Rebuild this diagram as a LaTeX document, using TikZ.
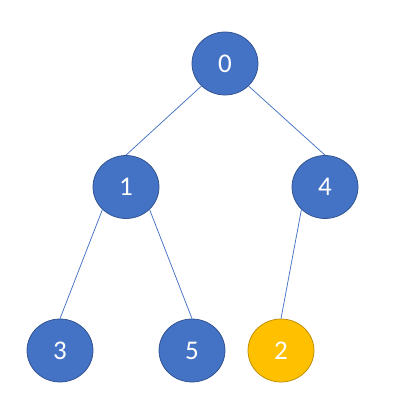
\documentclass[tikz,border=0pt]{standalone}
\usepackage{fontspec}
\setmainfont{Carlito}
\usepackage{tikz}
\usetikzlibrary{shapes.geometric}

\definecolor{nodeblue}{HTML}{4472C4}
\definecolor{nodeblueedge}{HTML}{2F528F}
\definecolor{nodegold}{HTML}{FFC000}
\definecolor{nodegoldedge}{HTML}{BC8C00}

\begin{document}
\begin{tikzpicture}[x=1pt, y=-1pt,
    vertex/.style={ellipse, minimum width=66pt, minimum height=63pt, inner sep=0pt,
        fill=nodeblue, draw=nodeblueedge, line width=0.75pt, text=white,
        font=\fontsize{27}{27}\selectfont},
    goldvertex/.style={vertex, fill=nodegold, draw=nodegoldedge},
    link/.style={draw=nodeblue, line width=0.75pt}]

\useasboundingbox (0,0) rectangle (402,416);

% Knoten des Baums
    \node[vertex] (n0) at (225,63.5) {0};
    \node[vertex] (n1) at (126,187) {1};
    \node[vertex] (n4) at (325,187) {4};
    \node[vertex] (n3) at (60,350.5) {3};
    \node[vertex] (n5) at (192,350.5) {5};
    \node[goldvertex] (n2) at (281,350.5) {2};

% Kanten
    \draw[link] (n0.south west) -- (n1.north);
    \draw[link] (n0.south east) -- (n4.north);
    \draw[link] (n1.south west) -- (n3.north);
    \draw[link] (n1.south east) -- (n5.north);
    \draw[link] (n4.south west) -- (n2.north);

\end{tikzpicture}
\end{document}
